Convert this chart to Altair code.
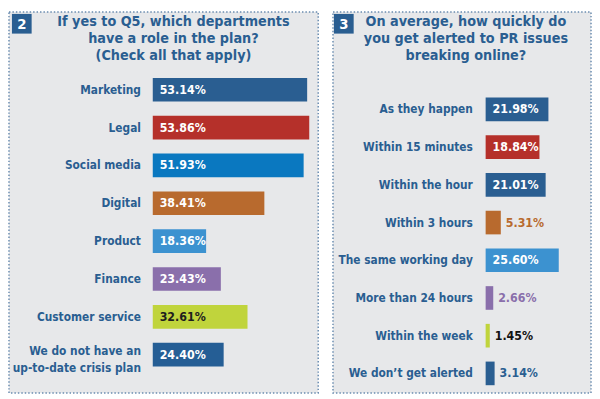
import altair as alt
import pandas as pd

# ---------------- data ----------------
q5_number = "2"
q5_title = ["If yes to Q5, which departments", "have a role in the plan?", "(Check all that apply)"]
q5_categories = ["Marketing", "Legal", "Social media", "Digital", "Product", "Finance",
                 "Customer service", "We do not have an\nup-to-date crisis plan"]
q5_values = [53.14, 53.86, 51.93, 38.41, 18.36, 23.43, 32.61, 24.40]

alert_number = "3"
alert_title = ["On average, how quickly do", "you get alerted to PR issues", "breaking online?"]
alert_categories = ["As they happen", "Within 15 minutes", "Within the hour", "Within 3 hours",
                    "The same working day", "More than 24 hours", "Within the week",
                    "We don\u2019t get alerted"]
alert_values = [21.98, 18.84, 21.01, 5.31, 25.60, 2.66, 1.45, 3.14]

# ---------------- styles ----------------
DB = "#2a5e91"
RED = "#b5302a"
SB = "#0a78c0"
OR = "#b86a2e"
LB = "#3c92d0"
PU = "#8a6fab"
LI = "#c0d43c"
DB2 = "#255e95"
TXT = "#2a5e91"
FONT = "DejaVu Sans Condensed, sans-serif"

q5_bar_colors = [DB, RED, SB, OR, LB, PU, LI, DB2]
q5_label_colors = ["white"] * 6 + ["#1e1e1e", "white"]
alert_bar_colors = [DB, RED, DB, OR, LB, PU, LI, DB]
alert_label_colors = ["white", "white", "white", OR, "white", PU, "#111111", DB]


def panel(number, title_lines, cats, vals, bar_colors, label_colors,
          width, height, step, first_center, x_start, px_per_unit,
          title_x, box_x, label_dx, inside_dx):
    n = len(cats)
    df = pd.DataFrame({"cat": cats, "val": vals, "bc": bar_colors, "lc": label_colors,
                       "idx": list(range(n)), "zero": [0.0] * n})
    df["lab"] = [f"{v:.2f}%" for v in vals]
    ylo = -first_center / step
    yhi = ylo + height / step
    xlo = -x_start / px_per_unit
    xhi = xlo + width / px_per_unit
    ys = alt.Scale(domain=[ylo, yhi], reverse=True, nice=False, zero=False, padding=0)
    xs = alt.Scale(domain=[xlo, xhi], nice=False, zero=False, padding=0)
    Y = alt.Y("idx:Q", scale=ys, axis=None)
    X0 = alt.X("zero:Q", scale=xs, axis=None)
    XV = alt.X("val:Q", scale=xs, axis=None)
    base = alt.Chart(df)

    bars = base.mark_bar(size=24).encode(
        x=XV, x2="zero:Q", y=Y, color=alt.Color("bc:N", scale=None),
    )
    single = base.transform_filter("indexof(datum.cat, '\\n') < 0").mark_text(
        align="right", baseline="middle", dx=label_dx, font=FONT, fontSize=12,
        fontWeight="bold", color=TXT,
    ).encode(x=X0, y=Y, text="cat:N")
    multi = base.transform_filter("indexof(datum.cat, '\\n') >= 0").mark_text(
        align="right", baseline="middle", dx=label_dx, dy=-4, font=FONT, fontSize=12,
        fontWeight="bold", color=TXT, lineBreak="\n", lineHeight=18,
    ).encode(x=X0, y=Y, text="cat:N")
    inside = base.transform_filter("datum.val >= 10").mark_text(
        align="left", baseline="middle", dx=inside_dx, font=FONT, fontSize=12.5,
        fontWeight="bold",
    ).encode(x=X0, y=Y, text="lab:N", color=alt.Color("lc:N", scale=None))
    outside = base.transform_filter("datum.val < 10").mark_text(
        align="left", baseline="middle", dx=5, font=FONT, fontSize=12.5,
        fontWeight="bold",
    ).encode(x=XV, y=Y, text="lab:N", color=alt.Color("lc:N", scale=None))

    tdf = pd.DataFrame({"t": ["\n".join(title_lines)], "n": [number]})
    title = alt.Chart(tdf).mark_text(
        align="center", baseline="alphabetic", font=FONT, fontSize=14.5,
        fontWeight="bold", color=TXT, lineBreak="\n", lineHeight=17.5,
    ).encode(x=alt.value(title_x), y=alt.value(14), text="t:N")
    box = alt.Chart(tdf).mark_point(shape="square", filled=True, opacity=1, color=DB,
                                    size=400).encode(
        x=alt.value(box_x + 10), y=alt.value(12)
    )
    num = alt.Chart(tdf).mark_text(
        align="center", baseline="middle", font=FONT, fontSize=15, fontWeight="bold",
        color="white",
    ).encode(x=alt.value(box_x + 10), y=alt.value(12.5), text="n:N")

    return alt.layer(bars, single, multi, inside, outside, title, box, num).properties(
        width=width, height=height
    )


left = panel(q5_number, q5_title, q5_categories, q5_values, q5_bar_colors, q5_label_colors,
             width=314, height=387, step=38.43, first_center=79.0, x_start=146,
             px_per_unit=2.95, title_x=167, box_x=3, label_dx=-12, inside_dx=7)
right = panel(alert_number, alert_title, alert_categories, alert_values, alert_bar_colors,
              alert_label_colors, width=262, height=387, step=38.29, first_center=99.0,
              x_start=155, px_per_unit=2.9, title_x=135, box_x=1, label_dx=-13,
              inside_dx=7)

chart = alt.hconcat(left, right, spacing=13).configure(padding=0).configure_view(
    fill="#e7e8ea", stroke="#6a8cb0", strokeDash=[1.5, 2], strokeWidth=1.5
)

chart.save("out.html", embed_options={"renderer": "svg", "actions": False})
